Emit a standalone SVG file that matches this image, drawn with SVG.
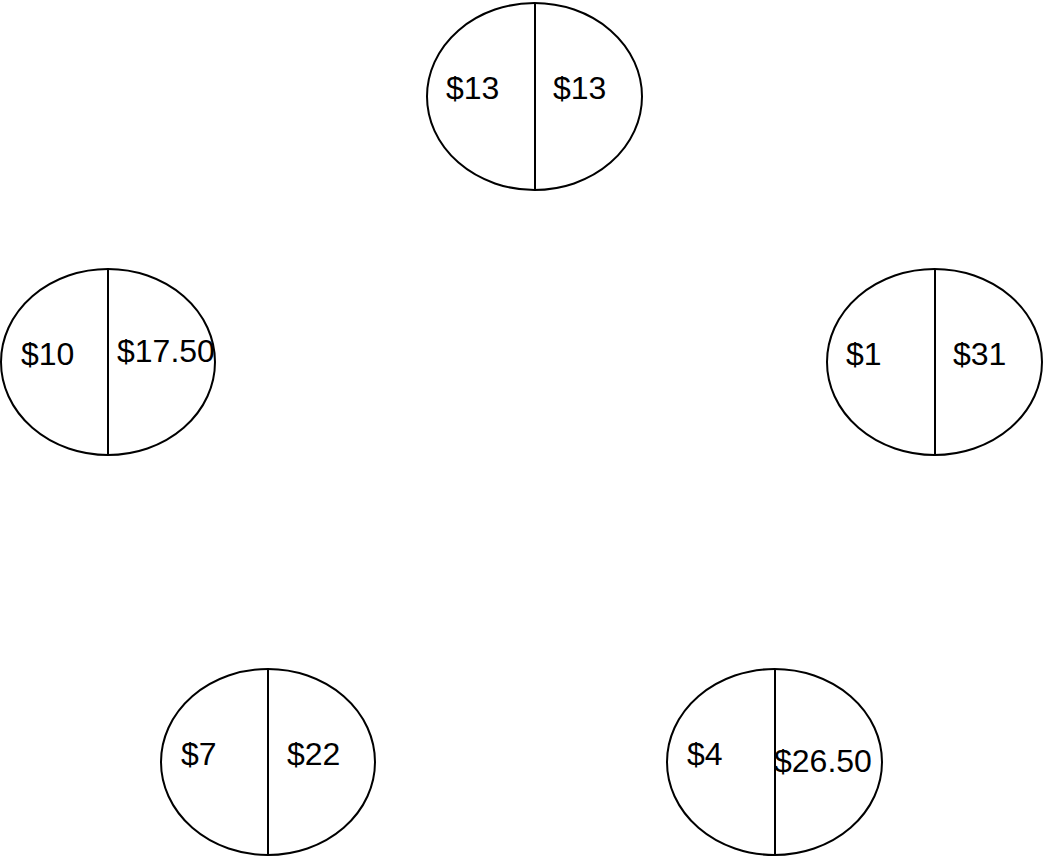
<svg xmlns="http://www.w3.org/2000/svg" width="1043" height="858" viewBox="0 0 1043 858">
<style>
.e{fill:#fff;stroke:#000;stroke-width:2}
.d{stroke:#000;stroke-width:2}
text{font-family:"Liberation Sans",Arial,sans-serif;font-size:32px;fill:#000}
</style>
<rect width="1043" height="858" fill="#fff"/>
<g id="node-top">
<ellipse class="e" cx="534.5" cy="96.5" rx="107.5" ry="93.5"/>
<line class="d" x1="535" y1="3" x2="535" y2="190"/>
<text x="446" y="99">$13</text>
<text x="553" y="99">$13</text>
</g>
<g id="node-left">
<ellipse class="e" cx="108" cy="362" rx="107" ry="93"/>
<line class="d" x1="108" y1="269" x2="108" y2="455"/>
<text x="21" y="365">$10</text>
<text x="117" y="362">$17.50</text>
</g>
<g id="node-right">
<ellipse class="e" cx="934.5" cy="362" rx="107.5" ry="93"/>
<line class="d" x1="935" y1="269" x2="935" y2="455"/>
<text x="846" y="365">$1</text>
<text x="953" y="365">$31</text>
</g>
<g id="node-bottom-left">
<ellipse class="e" cx="268" cy="762" rx="107" ry="93"/>
<line class="d" x1="268" y1="669" x2="268" y2="855"/>
<text x="181" y="765">$7</text>
<text x="287" y="765">$22</text>
</g>
<g id="node-bottom-right">
<ellipse class="e" cx="774.5" cy="762" rx="107.5" ry="93"/>
<line class="d" x1="775" y1="669" x2="775" y2="855"/>
<text x="687" y="765">$4</text>
<text x="774" y="772">$26.50</text>
</g>
<g id="connectors"></g>
</svg>
